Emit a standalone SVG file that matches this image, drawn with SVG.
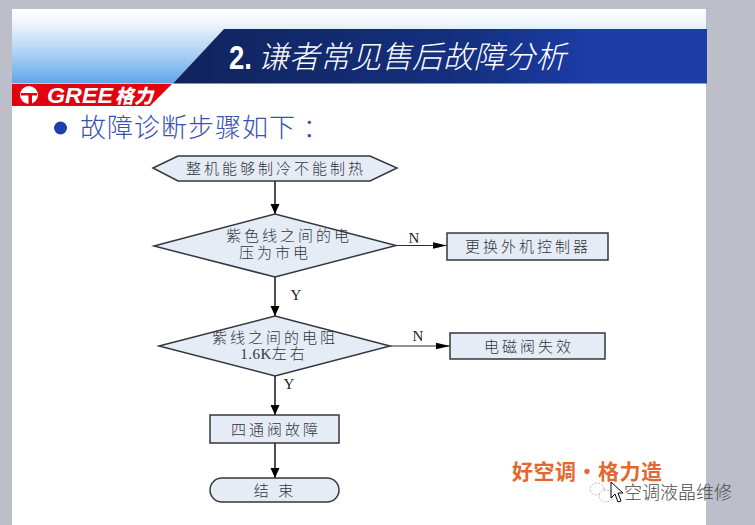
<svg xmlns="http://www.w3.org/2000/svg" width="755" height="525" viewBox="0 0 755 525">
<defs>
<linearGradient id="sky" x1="0" y1="0" x2="0" y2="1"><stop offset="0" stop-color="#ffffff"/><stop offset="0.2" stop-color="#edf4fc"/><stop offset="0.65" stop-color="#a3ccf3"/><stop offset="1" stop-color="#5fa5e8"/></linearGradient>
<linearGradient id="band" x1="0" y1="0" x2="1" y2="0"><stop offset="0" stop-color="#10245c"/><stop offset="0.55" stop-color="#14307f"/><stop offset="0.78" stop-color="#1c3ca8"/><stop offset="1" stop-color="#1c3ca8"/></linearGradient>
<marker id="arrV" markerUnits="userSpaceOnUse" markerWidth="12" markerHeight="10" refX="10" refY="5" orient="auto"><path d="M0,0.500 L10,5 L0,9.500 Z" fill="#000"/></marker>
<marker id="arrH" markerUnits="userSpaceOnUse" markerWidth="15" markerHeight="8" refX="14" refY="4" orient="auto"><path d="M0,0.800 L14,4 L0,7.200 Z" fill="#000"/></marker>
</defs>
<style>
.shape{fill:#e6ecf6;stroke:#33373f;stroke-width:1.500}
.cn{font-family:"Noto Sans CJK SC",sans-serif;font-size:15px;font-weight:300;fill:#33363c;text-anchor:middle;letter-spacing:3px}
.lat{font-family:"Liberation Serif",serif;font-size:15px;fill:#222;text-anchor:middle}
.v{fill:none;stroke:#3c3c3c;stroke-width:1.800;marker-end:url(#arrV)}
.h{fill:none;stroke:#2a2a2a;stroke-width:1.100;marker-end:url(#arrH)}
</style>
<rect width="755" height="525" fill="#bcbfc9"/>
<rect x="12" y="9" width="694" height="516" fill="#fff"/>
<g id="header">
<path d="M12,9 H706 V29 H224 L173,83.500 H12 Z" fill="url(#sky)"/>
<path d="M173,83.500 L224,29 H707 V83.500 Z" fill="url(#band)"/>
<text x="229" y="69" font-family="Liberation Sans,sans-serif" font-size="33" font-weight="bold" textLength="23" lengthAdjust="spacingAndGlyphs" fill="#fff">2.</text>
<text x="258" y="68" font-family="Noto Sans CJK SC,sans-serif" font-size="31" font-weight="300" font-style="italic" textLength="308" lengthAdjust="spacingAndGlyphs" fill="#fff">谦者常见售后故障分析</text>
</g>
<g id="logo">
<path d="M12,84 H172 L150,106 H12 Z" fill="#e3000f"/>
<circle cx="29" cy="95" r="9" fill="#fff"/>
<path d="M21,93 H37 V95.500 H32 V104 H28.500 V95.500 H21 Z" fill="#e3000f"/>
<text x="47" y="103" font-family="Liberation Sans,sans-serif" font-size="22" font-weight="bold" font-style="italic" textLength="66" lengthAdjust="spacingAndGlyphs" fill="#fff">GREE</text>
<text x="115" y="103" font-family="Noto Sans CJK SC,sans-serif" font-size="19" font-weight="900" font-style="italic" textLength="38" lengthAdjust="spacingAndGlyphs" fill="#fff">格力</text>
</g>
<g id="heading">
<circle cx="60.500" cy="128" r="6.500" fill="#1f3fae"/>
<text x="80" y="137" font-family="Noto Sans CJK SC,sans-serif" font-size="26" font-weight="300" letter-spacing="1" fill="#3850ae">故障诊断步骤如下 ：</text>
</g>
<g id="connectors">
<path class="v" d="M275,181 V214"/>
<path class="h" d="M396,245.500 H447"/>
<path class="v" d="M275,277 V316"/>
<path class="h" d="M390,346 H450"/>
<path class="v" d="M275,376 V415"/>
<path class="v" d="M275,443 V478"/>
<text class="lat" x="414" y="243">N</text>
<text class="lat" x="296" y="300">Y</text>
<text class="lat" x="418" y="341">N</text>
<text class="lat" x="289" y="389">Y</text>
</g>
<g id="start">
<polygon class="shape" points="153,168 178,156 370,156 397,168 370,181 178,181"/>
<text class="cn" x="276" y="173.500">整机能够制冷不能制热</text>
</g>
<g id="check1">
<polygon class="shape" points="154,246 275,214 396,245.500 275,277"/>
<text class="cn" x="289" y="241">紫色线之间的电</text>
<text class="cn" x="275" y="258">压为市电</text>
</g>
<g id="replace">
<rect class="shape" x="447" y="233" width="161" height="27"/>
<text class="cn" x="528" y="251.500">更换外机控制器</text>
</g>
<g id="check2">
<polygon class="shape" points="159,346 275,316 390,346 275,376"/>
<text class="cn" x="275" y="343">紫线之间的电阻</text>
<text class="cn" x="274" y="359"><tspan font-family="Liberation Serif,serif" letter-spacing="0.500">1.6K</tspan>左右</text>
</g>
<g id="valve">
<rect class="shape" x="450" y="333" width="155" height="26"/>
<text class="cn" x="529" y="351.500">电磁阀失效</text>
</g>
<g id="fourway">
<rect class="shape" x="210" y="415" width="129" height="28"/>
<text class="cn" x="276" y="434.500">四通阀故障</text>
</g>
<g id="end">
<rect class="shape" x="210" y="478" width="129" height="24" rx="12" ry="12"/>
<text class="cn" x="275" y="495.500" xml:space="preserve">结 束</text>
</g>
<g id="slogan">
<text x="512" y="479" font-family="Noto Sans CJK SC,sans-serif" font-size="21" font-weight="700" letter-spacing="0.500" fill="#e4672f">好空调·格力造</text>
</g>
<g id="watermark">
<ellipse cx="597" cy="489" rx="7" ry="6" fill="#fff" stroke="#b5b5b5" stroke-width="1" stroke-dasharray="2 1.500"/>
<ellipse cx="606" cy="496" rx="7" ry="6" fill="#fff" stroke="#b5b5b5" stroke-width="1" stroke-dasharray="2 1.500"/>
<path d="M611,482 V498 L615,494 L618,502 L621,501 L618,493 L623,493 Z" fill="#fff" stroke="#000" stroke-width="1"/>
<text x="624" y="499" font-family="Noto Sans CJK SC,sans-serif" font-size="18" font-weight="300" fill="#4a4a4a">空调液晶维修</text>
</g>
</svg>
